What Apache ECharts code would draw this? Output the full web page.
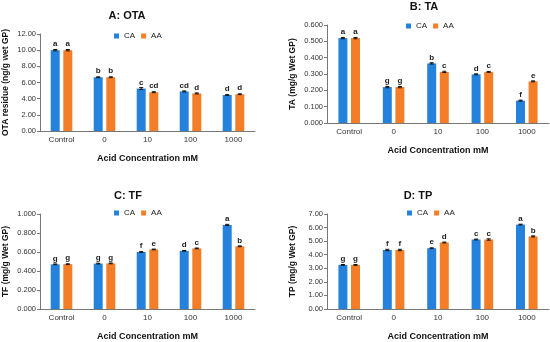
<!DOCTYPE html>
<html><head><meta charset="utf-8">
<script src="https://cdn.jsdelivr.net/npm/echarts@6/dist/echarts.min.js"></script>
<style>html,body{margin:0;padding:0;background:#fff}#c{width:550px;height:342px}</style>
</head><body><div id="c"></div>
<script>
const categories = ['Control', '0', '10', '100', '1000'];
const seriesNames = ['CA', 'AA'];

// A: OTA
const otaCA = [10.0, 6.65, 5.25, 4.9, 4.45];
const otaAA = [10.0, 6.65, 4.8, 4.65, 4.55];
const otaErrCA = [0.08, 0.05, 0.12, 0.06, 0.05];
const otaErrAA = [0.08, 0.05, 0.06, 0.06, 0.05];
const otaLetCA = ['a', 'b', 'c', 'cd', 'd'];
const otaLetAA = ['a', 'b', 'cd', 'd', 'd'];

// B: TA
const taCA = [0.520, 0.220, 0.365, 0.298, 0.137];
const taAA = [0.520, 0.220, 0.313, 0.313, 0.255];
const taErrCA = [0.004, 0.004, 0.004, 0.003, 0.003];
const taErrAA = [0.004, 0.004, 0.004, 0.003, 0.003];
const taLetCA = ['a', 'g', 'b', 'd', 'f'];
const taLetAA = ['a', 'g', 'c', 'c', 'e'];

// C: TF
const tfCA = [0.470, 0.478, 0.600, 0.612, 0.885];
const tfAA = [0.472, 0.480, 0.627, 0.638, 0.660];
const tfErrCA = [0.004, 0.004, 0.004, 0.004, 0.006];
const tfErrAA = [0.004, 0.004, 0.004, 0.004, 0.004];
const tfLetCA = ['g', 'g', 'f', 'd', 'a'];
const tfLetAA = ['g', 'g', 'e', 'c', 'b'];

// D: TP
const tpCA = [3.25, 4.35, 4.48, 5.12, 6.22];
const tpAA = [3.25, 4.35, 4.90, 5.12, 5.35];
const tpErrCA = [0.03, 0.05, 0.03, 0.03, 0.03];
const tpErrAA = [0.03, 0.05, 0.03, 0.05, 0.04];
const tpLetCA = ['g', 'f', 'e', 'c', 'a'];
const tpLetAA = ['g', 'f', 'd', 'c', 'b'];

const FONT = 'Liberation Sans';
const colCA = '#2582dc';
const colAA = '#f47d28';
const BW = 9, GAP = 3.6;

const panels = [
  {title: 'A: OTA', tx: 127, ty: 10, lx: 114, ly: 32, grid: {left: 37, top: 34, width: 218, height: 97},
   yName: 'OTA residue (ng/g wet GP)', max: 12, interval: 2, dec: 2,
   ca: otaCA, aa: otaAA, eca: otaErrCA, eaa: otaErrAA, lca: otaLetCA, laa: otaLetAA},
  {title: 'B: TA', tx: 424, ty: 1, lx: 406, ly: 22, grid: {left: 327, top: 25, width: 222, height: 98},
   yName: 'TA (mg/g Wet GP)', max: 0.6, interval: 0.1, dec: 3,
   ca: taCA, aa: taAA, eca: taErrCA, eaa: taErrAA, lca: taLetCA, laa: taLetAA},
  {title: 'C: TF', tx: 128, ty: 190, lx: 114, ly: 209, grid: {left: 37, top: 214, width: 218, height: 97},
   yName: 'TF (mg/g Wet GP)', max: 1, interval: 0.2, dec: 3,
   ca: tfCA, aa: tfAA, eca: tfErrCA, eaa: tfErrAA, lca: tfLetCA, laa: tfLetAA},
  {title: 'D: TP', tx: 418, ty: 190, lx: 407, ly: 209, grid: {left: 327, top: 214, width: 222, height: 97},
   yName: 'TP (mg/g Wet GP)', max: 7, interval: 1, dec: 2,
   ca: tpCA, aa: tpAA, eca: tpErrCA, eaa: tpErrAA, lca: tpLetCA, laa: tpLetAA}
];

const option = {
  animation: false,
  backgroundColor: '#fff',
  textStyle: {fontFamily: FONT},
  title: [], legend: [], grid: [], xAxis: [], yAxis: [], series: []
};

function errSeries(i, vals, errs, offset) {
  return {
    type: 'custom', xAxisIndex: i, yAxisIndex: i, silent: true, z: 5,
    data: vals.map((v, k) => [k, v, errs[k]]),
    renderItem: function (params, api) {
      const k = api.value(0), v = api.value(1), e = api.value(2);
      const top = api.coord([k, v + e]);
      const bot = api.coord([k, v - e]);
      const x = top[0] + offset;
      return {type: 'group', children: [
        {type: 'line', shape: {x1: x, y1: top[1], x2: x, y2: bot[1]}, style: {stroke: '#111', lineWidth: 1}},
        {type: 'line', shape: {x1: x - 2, y1: top[1], x2: x + 2, y2: top[1]}, style: {stroke: '#111', lineWidth: 1}},
        {type: 'line', shape: {x1: x - 2, y1: bot[1], x2: x + 2, y2: bot[1]}, style: {stroke: '#111', lineWidth: 1}}
      ]};
    }
  };
}

panels.forEach((p, i) => {
  option.title.push({text: p.title, left: p.tx, top: p.ty, textAlign: 'center', padding: 0,
    textStyle: {fontFamily: FONT, fontSize: 11, fontWeight: 'bold', color: '#111'}});
  option.legend.push({data: seriesNames, left: p.lx, top: p.ly, itemWidth: 5, itemHeight: 5, itemGap: 6,
    icon: 'rect', textStyle: {fontFamily: FONT, fontSize: 8, color: '#222'}, padding: 0});
  option.grid.push(p.grid);
  option.xAxis.push({type: 'category', gridIndex: i, data: categories,
    name: 'Acid Concentration mM', nameLocation: 'middle', nameGap: 23,
    nameTextStyle: {fontFamily: FONT, fontSize: 9, fontWeight: 'bold', color: '#111'},
    axisLine: {lineStyle: {color: '#777'}}, axisTick: {length: 3, lineStyle: {color: '#777'}},
    axisLabel: {fontFamily: FONT, fontSize: 8, color: '#333', margin: 5}});
  option.yAxis.push({type: 'value', gridIndex: i, min: 0, max: p.max, interval: p.interval,
    name: p.yName, nameLocation: 'middle', nameGap: 30, nameRotate: 90,
    nameTextStyle: {fontFamily: FONT, fontSize: 8.5, fontWeight: 'bold', color: '#111'},
    axisLine: {show: true, lineStyle: {color: '#777'}}, axisTick: {show: true, length: 3, lineStyle: {color: '#777'}},
    splitLine: {show: false},
    axisLabel: {fontFamily: FONT, fontSize: 7.5, color: '#333', margin: 4, formatter: v => v.toFixed(p.dec)}});
  [['CA', p.ca, p.lca, colCA], ['AA', p.aa, p.laa, colAA]].forEach(([nm, vals, lets, col]) => {
    option.series.push({type: 'bar', name: nm, xAxisIndex: i, yAxisIndex: i, data: vals,
      barWidth: BW, barGap: '40%', itemStyle: {color: col},
      label: {show: true, position: 'top', distance: 2, fontFamily: FONT, fontSize: 8, fontWeight: 'bold', color: '#222',
        formatter: prm => lets[prm.dataIndex]}});
  });
  option.series.push(errSeries(i, p.ca, p.eca, -(BW + GAP) / 2));
  option.series.push(errSeries(i, p.aa, p.eaa, (BW + GAP) / 2));
});

const chart = echarts.init(document.getElementById('c'), null, {renderer: 'canvas'});
chart.setOption(option);
</script>
</body></html>
